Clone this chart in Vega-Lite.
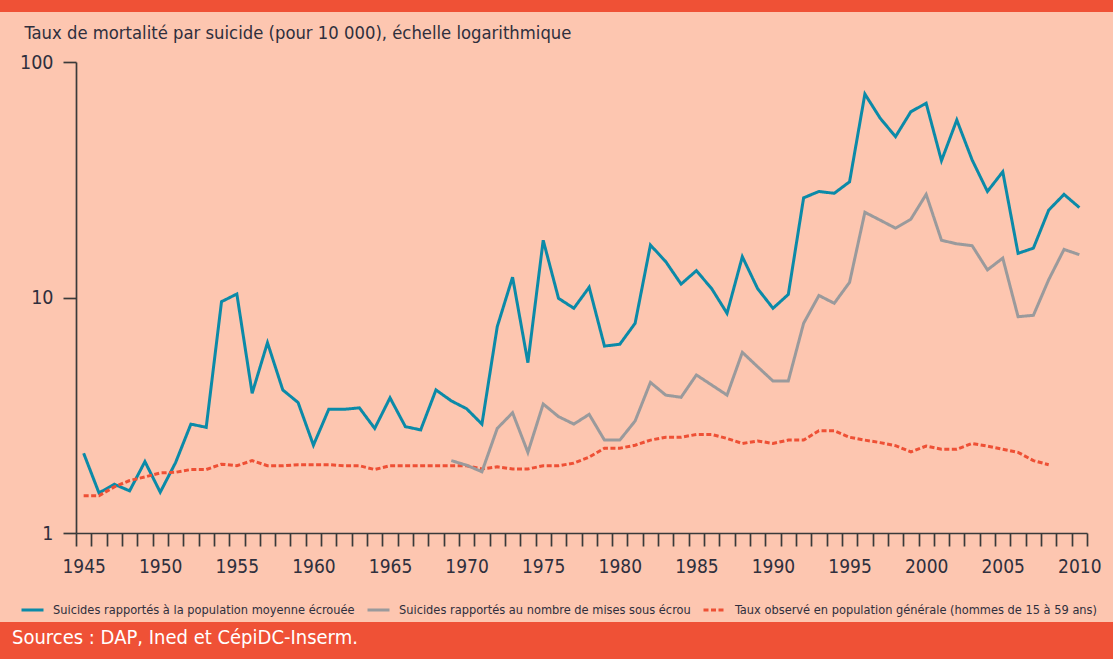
{
  "$schema": "https://vega.github.io/schema/vega-lite/v6.json",
  "width": 1113,
  "height": 610,
  "autosize": {"type": "none"},
  "padding": {"top": 12, "bottom": 37, "left": 0, "right": 0},
  "background": "#EF5136",
  "view": {"fill": "#FDC6B0", "stroke": null},
  "config": {"font": "DejaVu Sans Condensed, DejaVu Sans, sans-serif"},
  "title": {
    "text": "Sources : DAP, Ined et CépiDC-Inserm.",
    "orient": "bottom",
    "anchor": "start",
    "frame": "group",
    "color": "#ffffff",
    "font": "DejaVu Sans Condensed, DejaVu Sans, sans-serif",
    "fontSize": 20,
    "fontWeight": "normal",
    "offset": 6,
    "dx": 12
  },
  "data": {
    "values": [
      {"year": 1945, "pop": 2.18, "gen": 1.44},
      {"year": 1946, "pop": 1.48, "gen": 1.44},
      {"year": 1947, "pop": 1.61, "gen": 1.57},
      {"year": 1948, "pop": 1.51, "gen": 1.67},
      {"year": 1949, "pop": 2.01, "gen": 1.73},
      {"year": 1950, "pop": 1.49, "gen": 1.8},
      {"year": 1951, "pop": 1.99, "gen": 1.81},
      {"year": 1952, "pop": 2.9, "gen": 1.86},
      {"year": 1953, "pop": 2.81, "gen": 1.86},
      {"year": 1954, "pop": 9.6, "gen": 1.96},
      {"year": 1955, "pop": 10.35, "gen": 1.93},
      {"year": 1956, "pop": 3.92, "gen": 2.03},
      {"year": 1957, "pop": 6.43, "gen": 1.93},
      {"year": 1958, "pop": 4.05, "gen": 1.93},
      {"year": 1959, "pop": 3.58, "gen": 1.95},
      {"year": 1960, "pop": 2.36, "gen": 1.95},
      {"year": 1961, "pop": 3.35, "gen": 1.95},
      {"year": 1962, "pop": 3.35, "gen": 1.93},
      {"year": 1963, "pop": 3.4, "gen": 1.93},
      {"year": 1964, "pop": 2.78, "gen": 1.86},
      {"year": 1965, "pop": 3.75, "gen": 1.93},
      {"year": 1966, "pop": 2.83, "gen": 1.93},
      {"year": 1967, "pop": 2.74, "gen": 1.93},
      {"year": 1968, "pop": 4.05, "gen": 1.93},
      {"year": 1969, "pop": 3.64, "ecrou": 2.03, "gen": 1.93},
      {"year": 1970, "pop": 3.37, "ecrou": 1.94, "gen": 1.93},
      {"year": 1971, "pop": 2.9, "ecrou": 1.82, "gen": 1.87},
      {"year": 1972, "pop": 7.52, "ecrou": 2.78, "gen": 1.91},
      {"year": 1973, "pop": 12.2, "ecrou": 3.24, "gen": 1.87},
      {"year": 1974, "pop": 5.29, "ecrou": 2.2, "gen": 1.87},
      {"year": 1975, "pop": 17.5, "ecrou": 3.53, "gen": 1.93},
      {"year": 1976, "pop": 9.92, "ecrou": 3.12, "gen": 1.93},
      {"year": 1977, "pop": 9.0, "ecrou": 2.9, "gen": 1.98},
      {"year": 1978, "pop": 11.05, "ecrou": 3.19, "gen": 2.1},
      {"year": 1979, "pop": 6.22, "ecrou": 2.48, "gen": 2.29},
      {"year": 1980, "pop": 6.33, "ecrou": 2.48, "gen": 2.29},
      {"year": 1981, "pop": 7.77, "ecrou": 2.99, "gen": 2.36},
      {"year": 1982, "pop": 16.7, "ecrou": 4.36, "gen": 2.48},
      {"year": 1983, "pop": 14.2, "ecrou": 3.85, "gen": 2.55},
      {"year": 1984, "pop": 11.4, "ecrou": 3.77, "gen": 2.55},
      {"year": 1985, "pop": 13.0, "ecrou": 4.69, "gen": 2.62},
      {"year": 1986, "pop": 10.9, "ecrou": 4.25, "gen": 2.62},
      {"year": 1987, "pop": 8.57, "ecrou": 3.85, "gen": 2.52},
      {"year": 1988, "pop": 14.9, "ecrou": 5.85, "gen": 2.4},
      {"year": 1989, "pop": 10.9, "ecrou": 5.08, "gen": 2.46},
      {"year": 1990, "pop": 9.0, "ecrou": 4.42, "gen": 2.4},
      {"year": 1991, "pop": 10.3, "ecrou": 4.42, "gen": 2.48},
      {"year": 1992, "pop": 26.5, "ecrou": 7.77, "gen": 2.48},
      {"year": 1993, "pop": 28.2, "ecrou": 10.2, "gen": 2.72},
      {"year": 1994, "pop": 27.7, "ecrou": 9.45, "gen": 2.72},
      {"year": 1995, "pop": 31.0, "ecrou": 11.6, "gen": 2.55},
      {"year": 1996, "pop": 73.1, "ecrou": 23.0, "gen": 2.48},
      {"year": 1997, "pop": 57.7, "ecrou": 21.3, "gen": 2.42},
      {"year": 1998, "pop": 48.2, "ecrou": 19.7, "gen": 2.35},
      {"year": 1999, "pop": 61.5, "ecrou": 21.5, "gen": 2.21},
      {"year": 2000, "pop": 66.8, "ecrou": 27.4, "gen": 2.34},
      {"year": 2001, "pop": 38.1, "ecrou": 17.5, "gen": 2.27},
      {"year": 2002, "pop": 56.7, "ecrou": 16.9, "gen": 2.27},
      {"year": 2003, "pop": 38.4, "ecrou": 16.6, "gen": 2.4},
      {"year": 2004, "pop": 28.2, "ecrou": 13.1, "gen": 2.34},
      {"year": 2005, "pop": 34.2, "ecrou": 14.7, "gen": 2.27},
      {"year": 2006, "pop": 15.4, "ecrou": 8.29, "gen": 2.2},
      {"year": 2007, "pop": 16.2, "ecrou": 8.4, "gen": 2.03},
      {"year": 2008, "pop": 23.5, "ecrou": 11.9, "gen": 1.95},
      {"year": 2009, "pop": 27.4, "ecrou": 16.0},
      {"year": 2010, "pop": 24.1, "ecrou": 15.2}
    ]
  },
  "transform": [
    {"fold": ["pop", "ecrou", "gen"], "as": ["serie", "taux"]},
    {"filter": "isValid(datum.taux)"}
  ],
  "mark": {"type": "line", "strokeWidth": 3},
  "encoding": {
    "x": {
      "field": "year",
      "type": "ordinal",
      "scale": {"type": "band", "paddingInner": 0, "paddingOuter": 0, "range": [76, 1087]},
      "axis": {
        "orient": "bottom",
        "offset": -89,
        "title": null,
        "grid": false,
        "tickBand": "extent",
        "tickSize": 13,
        "tickWidth": 1.7,
        "tickColor": "#3a3a3a",
        "domainColor": "#3a3a3a",
        "domainWidth": 1.7,
        "labelAngle": 0,
        "labelOverlap": false,
        "labelExpr": "datum.value % 5 === 0 ? datum.label : ''",
        "labelFont": "DejaVu Sans Condensed, DejaVu Sans, sans-serif",
        "labelFontSize": 19,
        "labelColor": "#2f2f3d",
        "labelPadding": 11
      }
    },
    "y": {
      "field": "taux",
      "type": "quantitative",
      "scale": {"type": "log", "domain": [1, 100], "range": [521, 50]},
      "axis": {
        "values": [1, 10, 100],
        "format": "d",
        "offset": -76,
        "grid": false,
        "tickSize": 13,
        "tickWidth": 1.7,
        "tickColor": "#3a3a3a",
        "domainColor": "#3a3a3a",
        "domainWidth": 1.7,
        "labelFont": "DejaVu Sans Condensed, DejaVu Sans, sans-serif",
        "labelFontSize": 19.5,
        "labelColor": "#2f2f3d",
        "labelPadding": 10,
        "title": "Taux de mortalité par suicide (pour 10 000), échelle logarithmique",
        "titleAngle": 0,
        "titleAlign": "left",
        "titleBaseline": "alphabetic",
        "titleX": -52,
        "titleY": 26,
        "titleFont": "DejaVu Sans Condensed, DejaVu Sans, sans-serif",
        "titleFontSize": 18.3,
        "titleFontWeight": "normal",
        "titleColor": "#2f2f3d"
      }
    },
    "color": {
      "field": "serie",
      "type": "nominal",
      "scale": {"domain": ["pop", "ecrou", "gen"], "range": ["#0B8AA8", "#9A9A9C", "#EE5035"]},
      "legend": {
        "orient": "none",
        "legendX": 20,
        "legendY": 585,
        "direction": "horizontal",
        "title": null,
        "padding": 0,
        "symbolType": "stroke",
        "symbolSize": 484,
        "symbolStrokeWidth": 3,
        "labelFont": "DejaVu Sans Condensed, DejaVu Sans, sans-serif",
        "labelFontSize": 12.7,
        "labelColor": "#2f2f3d",
        "labelOffset": 8,
        "labelLimit": 500,
        "columnPadding": 6,
        "labelExpr": "datum.value === 'pop' ? 'Suicides rapportés à la population moyenne écrouée' : datum.value === 'ecrou' ? 'Suicides rapportés au nombre de mises sous écrou' : 'Taux observé en population générale (hommes de 15 à 59 ans)'"
      }
    },
    "strokeDash": {
      "field": "serie",
      "type": "nominal",
      "scale": {"domain": ["pop", "ecrou", "gen"], "range": [[1, 0], [1, 0], [5, 2.5]]},
      "legend": {
        "orient": "none",
        "legendX": 20,
        "legendY": 585,
        "direction": "horizontal",
        "title": null,
        "padding": 0,
        "symbolType": "stroke",
        "symbolSize": 484,
        "symbolStrokeWidth": 3,
        "labelFont": "DejaVu Sans Condensed, DejaVu Sans, sans-serif",
        "labelFontSize": 12.7,
        "labelColor": "#2f2f3d",
        "labelOffset": 8,
        "labelLimit": 500,
        "columnPadding": 6,
        "labelExpr": "datum.value === 'pop' ? 'Suicides rapportés à la population moyenne écrouée' : datum.value === 'ecrou' ? 'Suicides rapportés au nombre de mises sous écrou' : 'Taux observé en population générale (hommes de 15 à 59 ans)'"
      }
    }
  }
}
